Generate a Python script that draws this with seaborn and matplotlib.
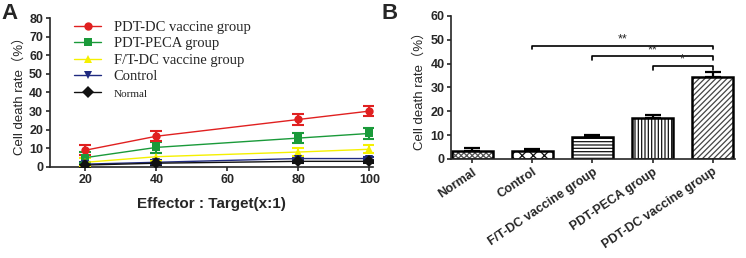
import matplotlib.pyplot as plt
import matplotlib.colors as mcolors
import seaborn as sns
import pandas as pd

# panel A data
ratios = [20, 40, 80, 100]
groups_a = ['PDT-DC vaccine group', 'PDT-PECA group', 'F/T-DC vaccine group', 'Control', 'Normal']
pdt_dc = [9.0, 16.5, 25.5, 30.0]
pdt_dc_err = [2.8, 2.8, 2.8, 2.8]
pdt_peca = [5.0, 10.5, 15.5, 18.0]
pdt_peca_err = [2.8, 2.8, 2.8, 2.8]
ft_dc = [2.5, 5.5, 8.0, 9.5]
ft_dc_err = [2.2, 2.2, 2.2, 2.2]
control_a = [1.5, 2.5, 4.5, 4.5]
control_a_err = [1.0, 1.0, 1.0, 1.0]
normal_a = [1.0, 2.0, 3.0, 3.0]
normal_a_err = [0.8, 0.8, 0.8, 0.8]

# panel B data
groups_b = ['Normal', 'Control', 'F/T-DC vaccine group', 'PDT-PECA group', 'PDT-DC vaccine group']
rate_b = [3.5, 3.2, 9.0, 17.0, 34.5]
rate_b_err = [1.0, 0.8, 1.2, 1.5, 2.0]

sns.set_style('ticks')
plt.rcParams['font.family'] = ['Liberation Sans', 'DejaVu Sans']
plt.rcParams['hatch.linewidth'] = 0.9

fig = plt.figure(figsize=(7.46, 2.58), dpi=100)
ax1 = fig.add_axes([0.067, 0.353, 0.433, 0.577])
ax2 = fig.add_axes([0.605, 0.384, 0.380, 0.554])

# ---- panel A
series = [pdt_dc, pdt_peca, ft_dc, control_a, normal_a]
errs = [pdt_dc_err, pdt_peca_err, ft_dc_err, control_a_err, normal_a_err]
colors = ['#e02020', '#1a9a3a', '#f5f000', '#1f2a80', '#111111']
markers = ['o', 's', '^', 'v', 'D']
rows = []
for g, vals in zip(groups_a, series):
    for r, v in zip(ratios, vals):
        rows.append({'ratio': r, 'rate': v, 'group': g})
df_a = pd.DataFrame(rows)

# reverse order so the red series ends up on top
for g, vals, e, c, m in list(zip(groups_a, series, errs, colors, markers))[::-1]:
    ax1.errorbar(ratios, vals, yerr=e, fmt='none', ecolor=c, elinewidth=1.5,
                 capsize=4, capthick=1.5, zorder=3)
sns.lineplot(data=df_a, x='ratio', y='rate', hue='group', style='group',
             hue_order=groups_a, style_order=groups_a, palette=colors,
             markers=markers, dashes=False, markersize=6, linewidth=1,
             markeredgewidth=0, ax=ax1, zorder=4)

ax1.set_xlim(10, 101)
ax1.set_ylim(0, 80)
ax1.set_xticks([20, 40, 60, 80, 100])
ax1.set_yticks(range(0, 81, 10))
ax1.tick_params(labelsize=9, width=1.2, length=3, pad=2)
for t in ax1.get_xticklabels() + ax1.get_yticklabels():
    t.set_fontweight('bold')
ax1.set_xlabel('Effector : Target(x:1)', fontsize=11, fontweight='bold', labelpad=8)
ax1.set_ylabel('Cell death rate（%）', fontsize=9.5, labelpad=2,
               family=['Liberation Sans', 'Noto Sans CJK SC'])
for s in ['top', 'right']:
    ax1.spines[s].set_visible(False)
for s in ['left', 'bottom']:
    ax1.spines[s].set_linewidth(1.2)

leg = ax1.legend(loc='upper left', bbox_to_anchor=(0.035, 1.07), frameon=False,
                 prop={'family': 'Liberation Serif', 'size': 10.5},
                 handlelength=1.8, handletextpad=0.9, labelspacing=0.22)
leg.get_texts()[4].set_fontsize(8)

fig.text(0.002, 0.99, 'A', fontsize=16, fontweight='bold', va='top')

# ---- panel B
df_b = pd.DataFrame({'group': groups_b, 'rate': rate_b})
sns.barplot(data=df_b, x='group', y='rate', color='white', width=0.68,
            edgecolor='black', linewidth=1.8, ax=ax2, zorder=2)
hatches = ['xxxxxx', 'xxx', '-----', '|||||', '//////']
hatch_colors = ['#555555', '#111111', '#111111', '#111111', '#444444']
for bar, h, hc in zip(ax2.patches, hatches, hatch_colors):
    bar.set_hatch(h)
    bar._hatch_color = mcolors.to_rgba(hc)
ax2.errorbar(range(len(rate_b)), rate_b, yerr=[[0] * len(rate_b), rate_b_err],
             fmt='none', ecolor='black', elinewidth=1.6, capsize=6, capthick=1.6, zorder=1)

ax2.set_xlim(-0.35, 4.37)
ax2.set_ylim(0, 60)
ax2.set_yticks(range(0, 61, 10))
ax2.tick_params(labelsize=9, width=1.2, length=3, pad=2)
ax2.set_xticks(range(len(groups_b)))
ax2.set_xticklabels(groups_b, rotation=34, ha='right', rotation_mode='anchor')
for t in ax2.get_xticklabels() + ax2.get_yticklabels():
    t.set_fontweight('bold')
ax2.set_xlabel('')
ax2.set_ylabel('Cell death rate（%）', fontsize=9.5, labelpad=3,
               family=['Liberation Sans', 'Noto Sans CJK SC'])
for s in ['top', 'right']:
    ax2.spines[s].set_visible(False)
for s in ['left', 'bottom']:
    ax2.spines[s].set_linewidth(1.2)

# significance brackets
brackets = [(1, 4, 47.5, '**'), (2, 4, 43.0, '**'), (3, 4, 39.0, '*')]
for x0, x1, y, lab in brackets:
    ax2.plot([x0, x0, x1, x1], [y - 1.5, y, y, y - 1.5], color='black', lw=1.2)
    ax2.text((x0 + x1) / 2, y + 0.2, lab, ha='center', va='bottom', fontsize=9)

fig.text(0.512, 0.99, 'B', fontsize=16, fontweight='bold', va='top')

fig.savefig('out.png', dpi=100)
